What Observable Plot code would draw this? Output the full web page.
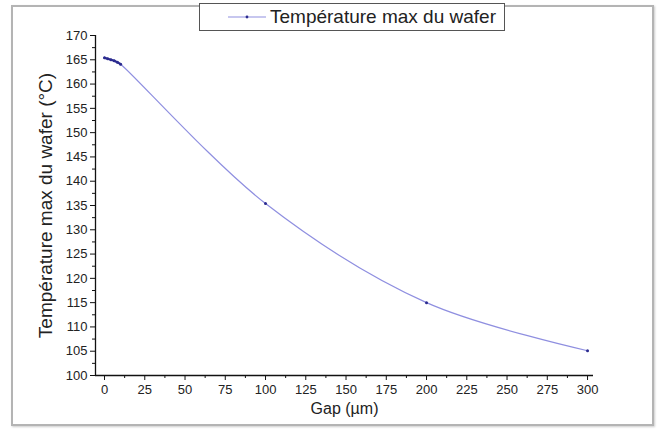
<!DOCTYPE html>
<html>
<head>
<meta charset="utf-8">
<script src="https://cdn.jsdelivr.net/npm/d3@7"></script>
<script src="https://cdn.jsdelivr.net/npm/@observablehq/plot@0.6"></script>
<style>
  html, body { margin: 0; padding: 0; background: #fff; }
  #wrap { position: relative; width: 664px; height: 430px; overflow: hidden; font-family: Arial, "Liberation Sans", sans-serif; }
  #outer { position: absolute; left: 11px; top: 5px; width: 639px; height: 417px; border: 2px solid #b4b4b4; box-shadow: 1px 1px 2px #ccc; pointer-events: none; }
  #legend { position: absolute; left: 199px; top: 3px; width: 306px; height: 28px; border: 1px solid #555; background: #fff; display: flex; align-items: center; box-sizing: border-box; padding-left: 28px; }
  #legend span { font-size: 19px; color: #222; margin-left: 4px; white-space: nowrap; }
</style>
</head>
<body>
<div id="wrap"></div>
<script>
// ---- data ----
const gap = [0, 2, 4, 6, 8, 10, 100, 200, 300];
const temperature = [165.4, 165.2, 165.0, 164.8, 164.5, 164.1, 135.4, 115.0, 105.1];
const seriesName = "Température max du wafer";
const xLabel = "Gap (µm)";
const yLabel = "Température max du wafer (°C)";
const xDomain = [-5.6, 303.7];
const yDomain = [100, 170];
const xMajor = [0, 25, 50, 75, 100, 125, 150, 175, 200, 225, 250, 275, 300];
const xMinor = [12.5, 37.5, 62.5, 87.5, 112.5, 137.5, 162.5, 187.5, 212.5, 237.5, 262.5, 287.5];
const yMajor = [100, 105, 110, 115, 120, 125, 130, 135, 140, 145, 150, 155, 160, 165, 170];
const yMinor = [102.5, 107.5, 112.5, 117.5, 122.5, 127.5, 132.5, 137.5, 142.5, 147.5, 152.5, 157.5, 162.5, 167.5];

const data = gap.map((g, i) => ({gap: g, t: temperature[i]}));
const lineColor = "#8f8fe0";
const dotColor = "#2b2b8f";

const chart = Plot.plot({
  width: 664,
  height: 430,
  marginLeft: 95,
  marginRight: 71,
  marginTop: 35,
  marginBottom: 55,
  style: {fontFamily: "Arial, 'Liberation Sans', sans-serif", color: "#222", background: "transparent", overflow: "visible"},
  x: {domain: xDomain, axis: null},
  y: {domain: yDomain, axis: null},
  marks: [
    Plot.axisY({ticks: yMajor, tickSize: 5, tickPadding: 3, fontSize: 13, label: null, stroke: "#111"}),
    Plot.axisY({ticks: yMinor, tickSize: 3, tickFormat: () => "", label: null, stroke: "#111"}),
    Plot.axisX({ticks: xMajor, tickSize: 5, tickPadding: 4, fontSize: 13, label: null, stroke: "#111"}),
    Plot.axisX({ticks: xMinor, tickSize: 3, tickFormat: () => "", label: null, stroke: "#111"}),
    Plot.ruleX([xDomain[0]], {stroke: "#111", strokeWidth: 1.3}),
    Plot.ruleY([yDomain[0]], {stroke: "#111", strokeWidth: 1.3}),
    Plot.line(data, {x: "gap", y: "t", stroke: lineColor, strokeWidth: 1.2, curve: "catmull-rom"}),
    Plot.line(data.slice(0, 6), {x: "gap", y: "t", stroke: dotColor, strokeWidth: 2.2}),
    Plot.dot(data, {x: "gap", y: "t", r: 1.5, fill: dotColor, stroke: null}),
    Plot.text([yLabel], {frameAnchor: "left", textAnchor: "middle", rotate: -90, dx: -50, fontSize: 19, fill: "#222"}),
    Plot.text([xLabel], {frameAnchor: "bottom", dy: 38, fontSize: 16, fill: "#222"})
  ]
});

const wrap = document.getElementById("wrap");
wrap.appendChild(chart);

const outer = document.createElement("div");
outer.id = "outer";
wrap.appendChild(outer);

const legend = document.createElement("div");
legend.id = "legend";
legend.innerHTML = `<svg width="38" height="10"><line x1="0" y1="5" x2="38" y2="5" stroke="${lineColor}" stroke-width="1.2"/><circle cx="19" cy="5" r="1.4" fill="${dotColor}"/></svg><span></span>`;
legend.querySelector("span").textContent = seriesName;
wrap.appendChild(legend);
</script>
</body>
</html>
